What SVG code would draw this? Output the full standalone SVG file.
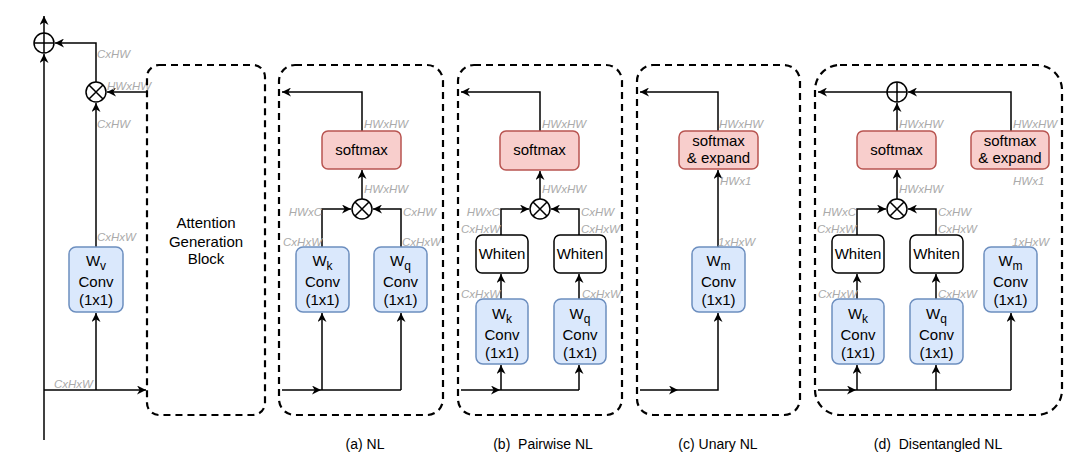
<svg xmlns="http://www.w3.org/2000/svg" width="1080" height="463" viewBox="0 0 1080 463">
<style>
.dash{fill:none;stroke:#000;stroke-width:2.2;stroke-dasharray:7 5}
.ln{fill:none;stroke:#000;stroke-width:1.5}
.ar{fill:none;stroke:#000;stroke-width:1.5;marker-end:url(#arr)}
.conv{fill:#dae8fc;stroke:#6c8ebf;stroke-width:1.5}
.sm{fill:#f8cecc;stroke:#b85450;stroke-width:1.5}
.wh{fill:#fff;stroke:#000;stroke-width:1.5}
.op{fill:#fff;stroke:#000;stroke-width:1.5}
.t{font-family:"Liberation Sans",Arial,sans-serif;font-size:15px;fill:#000;text-anchor:middle}
.cap{font-family:"Liberation Sans",Arial,sans-serif;font-size:14px;fill:#000;text-anchor:middle}
.lb{font-family:"Liberation Sans",Arial,sans-serif;font-size:11.5px;font-style:italic;fill:#aaaaaa}
.e{text-anchor:end}
.sub{font-size:12px}
</style>
<defs>
<marker id="arr" viewBox="0 0 10 10" refX="10" refY="5" markerWidth="9" markerHeight="9" markerUnits="userSpaceOnUse" orient="auto">
<path d="M0,0 L10,5 L0,10 L3,5 z" fill="#000"/>
</marker>
</defs>

<g id="connectors">
<path class="ar" d="M44,440 V54"/>
<path class="ar" d="M44,33 V16"/>
<path class="ar" d="M96,82 V43 H55"/>
<path class="ar" d="M147,92 H107"/>
<path class="ar" d="M96,247 V103"/>
<path class="ar" d="M96,390 V313"/>
<path class="ar" d="M44,390 H146"/>
<path class="ar" d="M362,131 V92 H282"/>
<path class="ar" d="M362,199 V170"/>
<path class="ar" d="M322,247 V209 H351"/>
<path class="ar" d="M401,247 V209 H373"/>
<path class="ar" d="M282,390 H321"/>
<path class="ln" d="M321,390 H401"/>
<path class="ar" d="M322,390 V313"/>
<path class="ar" d="M401,390 V313"/>
<path class="ar" d="M540,131 V92 H461"/>
<path class="ar" d="M540,199 V171"/>
<path class="ar" d="M501,235 V209 H529"/>
<path class="ar" d="M579,235 V209 H551"/>
<path class="ar" d="M501,299 V274"/>
<path class="ar" d="M579,299 V274"/>
<path class="ar" d="M461,390 H500"/>
<path class="ln" d="M500,390 H579"/>
<path class="ar" d="M501,390 V365"/>
<path class="ar" d="M579,390 V365"/>
<path class="ar" d="M718,131 V92 H640"/>
<path class="ar" d="M718,247 V170"/>
<path class="ar" d="M640,390 H678"/>
<path class="ar" d="M678,390 H718 V313"/>
<path class="ar" d="M887,92 H818"/>
<path class="ar" d="M897,131 V103"/>
<path class="ar" d="M1011,131 V92 H908"/>
<path class="ar" d="M897,199 V170"/>
<path class="ar" d="M857,235 V209 H886"/>
<path class="ar" d="M936,235 V209 H908"/>
<path class="ar" d="M857,299 V274"/>
<path class="ar" d="M936,299 V274"/>
<path class="ar" d="M818,390 H856"/>
<path class="ln" d="M856,390 H1011"/>
<path class="ar" d="M857,390 V365"/>
<path class="ar" d="M936,390 V365"/>
<path class="ar" d="M1011,390 V313"/>
</g>

<g id="labels">
<text class="lb" x="97" y="58">CxHW</text>
<text class="lb" x="107" y="90">HWxHW</text>
<text class="lb" x="97" y="128">CxHW</text>
<text class="lb" x="97" y="241">CxHxW</text>
<text class="lb" x="54" y="388">CxHxW</text>

<text class="lb" x="364" y="128">HWxHW</text>
<text class="lb" x="364" y="193">HWxHW</text>
<text class="lb e" x="322" y="216">HWxC</text>
<text class="lb" x="403" y="216">CxHW</text>
<text class="lb e" x="322" y="246">CxHxW</text>
<text class="lb" x="402" y="246">CxHxW</text>

<text class="lb" x="542" y="128">HWxHW</text>
<text class="lb" x="542" y="193">HWxHW</text>
<text class="lb e" x="500" y="216">HWxC</text>
<text class="lb e" x="500" y="233">CxHxW</text>
<text class="lb" x="581" y="216">CxHW</text>
<text class="lb" x="581" y="233">CxHxW</text>
<text class="lb e" x="500" y="298">CxHxW</text>
<text class="lb" x="582" y="298">CxHxW</text>

<text class="lb" x="719" y="128">HWxHW</text>
<text class="lb" x="720" y="185">HWx1</text>
<text class="lb" x="718" y="246">1xHxW</text>

<text class="lb" x="899" y="128">HWxHW</text>
<text class="lb" x="1013" y="128">HWxHW</text>
<text class="lb" x="1013" y="185">HWx1</text>
<text class="lb" x="899" y="193">HWxHW</text>
<text class="lb e" x="856" y="216">HWxC</text>
<text class="lb e" x="856" y="233">CxHxW</text>
<text class="lb" x="938" y="216">CxHW</text>
<text class="lb" x="938" y="233">CxHxW</text>
<text class="lb e" x="857" y="298">CxHxW</text>
<text class="lb" x="938" y="298">CxHxW</text>
<text class="lb" x="1012" y="246">1xHxW</text>
</g>

<g id="plus-main">
<circle class="op" cx="44" cy="43" r="10"/>
<path class="ln" d="M34,43 H54 M44,33 V53"/>
</g>
<g id="mult-main">
<circle class="op" cx="96" cy="92" r="10"/>
<path class="ln" d="M89,85 L103,99 M103,85 L89,99"/>
</g>
<g id="wv">
<rect class="conv" x="69" y="247" width="54" height="65" rx="7"/>
<text class="t" x="96" y="266">W<tspan class="sub" dy="4">v</tspan></text>
<text class="t" x="96" y="287">Conv</text>
<text class="t" x="96" y="305">(1x1)</text>
</g>
<g id="agb">
<rect class="dash" x="147" y="65" width="118" height="350" rx="12"/>
<text class="t" x="206" y="228">Attention</text>
<text class="t" x="206" y="247">Generation</text>
<text class="t" x="206" y="264">Block</text>
</g>

<g id="panel-a">
<rect class="dash" x="279" y="65" width="164" height="350" rx="16"/>
<text class="cap" x="365" y="449">(a) NL</text>
</g>
<g id="a-softmax">
<rect class="sm" x="322" y="131" width="79" height="38" rx="6"/>
<text class="t" x="361.5" y="155">softmax</text>
</g>
<g id="a-mult">
<circle class="op" cx="362" cy="209" r="10"/>
<path class="ln" d="M355,202 L369,216 M369,202 L355,216"/>
</g>
<g id="a-wk">
<rect class="conv" x="296" y="247" width="53" height="65" rx="7"/>
<text class="t" x="322.5" y="266">W<tspan class="sub" dy="4">k</tspan></text>
<text class="t" x="322.5" y="287">Conv</text>
<text class="t" x="322.5" y="305">(1x1)</text>
</g>
<g id="a-wq">
<rect class="conv" x="374" y="247" width="53" height="65" rx="7"/>
<text class="t" x="400.5" y="266">W<tspan class="sub" dy="4">q</tspan></text>
<text class="t" x="400.5" y="287">Conv</text>
<text class="t" x="400.5" y="305">(1x1)</text>
</g>

<g id="panel-b">
<rect class="dash" x="458" y="65" width="164" height="350" rx="16"/>
<text class="cap" x="543" y="449" xml:space="preserve">(b)  Pairwise NL</text>
</g>
<g id="b-softmax">
<rect class="sm" x="500" y="131" width="79" height="39" rx="6"/>
<text class="t" x="539.5" y="155">softmax</text>
</g>
<g id="b-mult">
<circle class="op" cx="540" cy="209" r="10"/>
<path class="ln" d="M533,202 L547,216 M547,202 L533,216"/>
</g>
<g id="b-whiten-k">
<rect class="wh" x="476" y="235" width="52" height="38" rx="6"/>
<text class="t" x="502" y="259">Whiten</text>
</g>
<g id="b-whiten-q">
<rect class="wh" x="554" y="235" width="52" height="38" rx="6"/>
<text class="t" x="580" y="259">Whiten</text>
</g>
<g id="b-wk">
<rect class="conv" x="476" y="299" width="52" height="65" rx="7"/>
<text class="t" x="502" y="319">W<tspan class="sub" dy="4">k</tspan></text>
<text class="t" x="502" y="340">Conv</text>
<text class="t" x="502" y="358">(1x1)</text>
</g>
<g id="b-wq">
<rect class="conv" x="554" y="299" width="52" height="65" rx="7"/>
<text class="t" x="580" y="319">W<tspan class="sub" dy="4">q</tspan></text>
<text class="t" x="580" y="340">Conv</text>
<text class="t" x="580" y="358">(1x1)</text>
</g>

<g id="panel-c">
<rect class="dash" x="637" y="65" width="163" height="350" rx="16"/>
<text class="cap" x="718" y="449">(c) Unary NL</text>
</g>
<g id="c-softmax">
<rect class="sm" x="679" y="131" width="79" height="38" rx="6"/>
<text class="t" x="718.5" y="146">softmax</text>
<text class="t" x="718.5" y="163">&amp; expand</text>
</g>
<g id="c-wm">
<rect class="conv" x="692" y="247" width="53" height="65" rx="7"/>
<text class="t" x="718.5" y="266">W<tspan class="sub" dy="4">m</tspan></text>
<text class="t" x="718.5" y="287">Conv</text>
<text class="t" x="718.5" y="305">(1x1)</text>
</g>

<g id="panel-d">
<rect class="dash" x="815" y="65" width="247" height="350" rx="25"/>
<text class="cap" x="938" y="449" xml:space="preserve">(d)  Disentangled NL</text>
</g>
<g id="d-plus">
<circle class="op" cx="897" cy="92" r="10"/>
<path class="ln" d="M887,92 H907 M897,82 V102"/>
</g>
<g id="d-softmax">
<rect class="sm" x="857" y="131" width="79" height="38" rx="6"/>
<text class="t" x="896.5" y="155">softmax</text>
</g>
<g id="d-softmax-expand">
<rect class="sm" x="971" y="131" width="78" height="38" rx="6"/>
<text class="t" x="1010" y="146">softmax</text>
<text class="t" x="1010" y="163">&amp; expand</text>
</g>
<g id="d-mult">
<circle class="op" cx="897" cy="209" r="10"/>
<path class="ln" d="M890,202 L904,216 M904,202 L890,216"/>
</g>
<g id="d-whiten-k">
<rect class="wh" x="832" y="235" width="52" height="38" rx="6"/>
<text class="t" x="858" y="259">Whiten</text>
</g>
<g id="d-whiten-q">
<rect class="wh" x="910" y="235" width="53" height="38" rx="6"/>
<text class="t" x="936.5" y="259">Whiten</text>
</g>
<g id="d-wk">
<rect class="conv" x="832" y="299" width="52" height="65" rx="7"/>
<text class="t" x="858" y="319">W<tspan class="sub" dy="4">k</tspan></text>
<text class="t" x="858" y="340">Conv</text>
<text class="t" x="858" y="358">(1x1)</text>
</g>
<g id="d-wq">
<rect class="conv" x="910" y="299" width="53" height="65" rx="7"/>
<text class="t" x="936.5" y="319">W<tspan class="sub" dy="4">q</tspan></text>
<text class="t" x="936.5" y="340">Conv</text>
<text class="t" x="936.5" y="358">(1x1)</text>
</g>
<g id="d-wm">
<rect class="conv" x="984" y="247" width="53" height="65" rx="7"/>
<text class="t" x="1010.5" y="266">W<tspan class="sub" dy="4">m</tspan></text>
<text class="t" x="1010.5" y="287">Conv</text>
<text class="t" x="1010.5" y="305">(1x1)</text>
</g>
</svg>
